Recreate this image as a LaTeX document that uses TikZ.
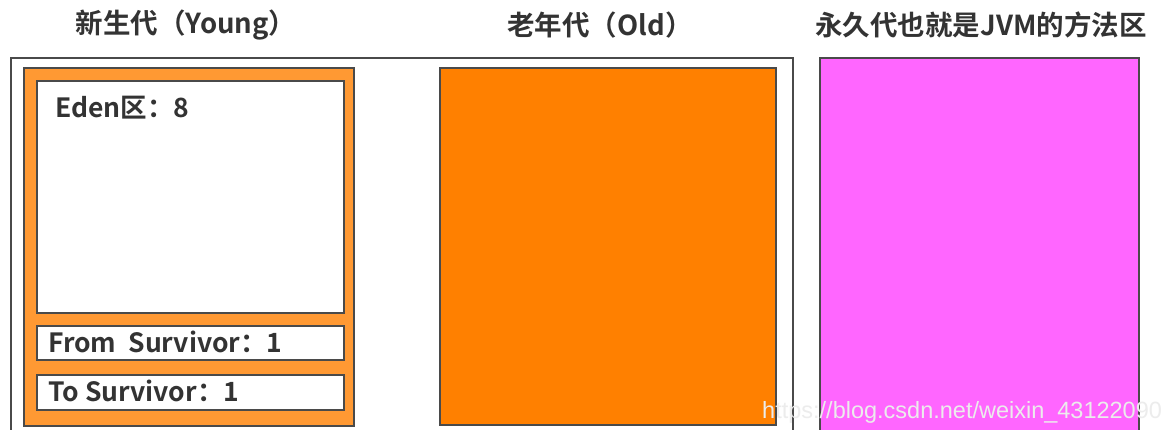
\documentclass[tikz,border=0pt]{standalone}
\usepackage{fontspec}
\newfontfamily\cjk{Noto Sans CJK SC Bold}
\newfontfamily\wm{Liberation Sans}
\definecolor{edge}{HTML}{4A4A4A}
\definecolor{txt}{HTML}{333333}
\definecolor{youngfill}{HTML}{FF9933}
\definecolor{oldfill}{HTML}{FF8000}
\definecolor{permfill}{HTML}{FF66FF}
\tikzset{
  area/.style={draw=edge, line width=2pt, anchor=north west, inner sep=0pt},
  title/.style={font=\cjk\fontsize{27.5}{32}\selectfont, text=txt},
  lab/.style={font=\cjk\fontsize{26.5}{30}\selectfont, text=txt, anchor=west, inner sep=0pt},
}
\begin{document}
\begin{tikzpicture}[x=1pt,y=-1pt]
\useasboundingbox (0,0) rectangle (1170,430);
\clip (0,0) rectangle (1170,430);
\fill[white] (0,0) rectangle (1170,430);
% outer heap box
\node[area, minimum width=782pt, minimum height=400pt] (heap) at (10,57) {};
% young generation
\node[area, fill=youngfill, minimum width=330pt, minimum height=358pt] (young) at (23,67) {};
\node[area, fill=white, minimum width=307pt, minimum height=232pt] (eden) at (36,80) {};
\node[area, fill=white, minimum width=307pt, minimum height=34pt] (from) at (36,325) {};
\node[area, fill=white, minimum width=307pt, minimum height=35pt] (to) at (36,374) {};
\node[lab] (edenlab) at (55,108) {Eden区：8};
\node[lab] (fromlab) at (48,342) {From\ \ Survivor：1};
\node[lab] (tolab) at (48,391) {To Survivor：1};
% old generation
\node[area, fill=oldfill, minimum width=336pt, minimum height=357pt] (old) at (439,67) {};
% permanent generation
\node[area, fill=permfill, minimum width=319pt, minimum height=400pt] (perm) at (819,57) {};
% titles
\node[title] (tyoung) at (186,25) {新生代（Young）};
\node[title] (told) at (600,25) {老年代（Old）};
\node[title] (tperm) at (981,25) {永久代也就是JVM的方法区};
% watermark
\node[font=\wm\fontsize{23.5}{27}\selectfont, text=white!85!gray, anchor=west, inner sep=0pt] (mark) at (762,412) {https://blog.csdn.net/weixin\_43122090};
\end{tikzpicture}
\end{document}
